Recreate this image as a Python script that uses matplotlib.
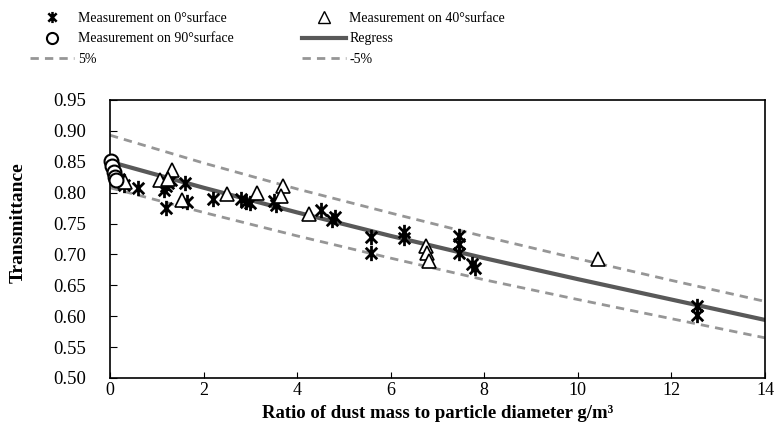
import matplotlib
matplotlib.use('Agg')
import matplotlib.pyplot as plt
from matplotlib.path import Path
from matplotlib.lines import Line2D

plt.rcParams['font.family'] = ['Liberation Serif', 'DejaVu Serif']

# measurement on 0 deg surface
x0 = [0.2, 0.3, 0.6, 1.2, 1.15, 1.2, 1.25, 1.3, 1.65, 1.6, 2.2, 2.8, 2.9, 3.0,
      3.5, 3.55, 4.5, 4.8, 4.75, 5.58, 5.58, 6.29, 6.29, 7.46, 7.46, 7.46,
      7.73, 7.8, 12.55, 12.55]
y0 = [0.822, 0.812, 0.808, 0.775, 0.805, 0.81, 0.815, 0.82, 0.785, 0.815, 0.79, 0.79,
      0.785, 0.783, 0.786, 0.78, 0.772, 0.76, 0.755, 0.728, 0.703, 0.736, 0.726, 0.73,
      0.717, 0.703, 0.684, 0.678, 0.617, 0.602]

# measurement on 40 deg surface
x40 = [0.32, 1.07, 1.32, 1.25, 1.53, 2.51, 3.15, 3.69, 3.65, 4.26, 6.75, 6.78, 6.82, 10.42]
y40 = [0.818, 0.82, 0.836, 0.822, 0.788, 0.798, 0.80, 0.81, 0.795, 0.766, 0.714, 0.702,
       0.689, 0.692]

# measurement on 90 deg surface
x90 = [0.02, 0.05, 0.08, 0.1, 0.12]
y90 = [0.851, 0.843, 0.834, 0.826, 0.821]

# regression curve and +/-5% band
xr = [0, 2, 4, 6, 8, 10, 12, 14]
yr = [0.850, 0.808, 0.768, 0.730, 0.694, 0.660, 0.627, 0.594]
yup = [0.893, 0.848, 0.806, 0.767, 0.729, 0.693, 0.658, 0.624]
ylo = [0.808, 0.768, 0.730, 0.694, 0.659, 0.627, 0.596, 0.565]

# asterisk: X plus vertical bar
star = Path([(0, -1), (0, 1), (-0.75, -0.75), (0.75, 0.75), (-0.75, 0.75), (0.75, -0.75)],
            [Path.MOVETO, Path.LINETO, Path.MOVETO, Path.LINETO, Path.MOVETO, Path.LINETO])

fig = plt.figure(figsize=(7.76, 4.43), dpi=100)
ax = fig.add_axes([110 / 776, 1 - 378 / 443, 655 / 776, 278 / 443])

ax.plot(xr, yup, '--', color='#969696', lw=2, dashes=(3, 2.2), zorder=1)
ax.plot(xr, ylo, '--', color='#969696', lw=2, dashes=(3, 2.2), zorder=1)
ax.plot(xr, yr, '-', color='#595959', lw=3, zorder=2)

ax.plot(x0, y0, ls='none', marker=star, ms=11, mew=2, mec='black', mfc='none', zorder=3)
ax.plot(x40, y40, ls='none', marker='^', ms=10, mew=1.2, mec='black', mfc='white', zorder=3)
ax.plot(x90, y90, ls='none', marker='o', ms=10, mew=1.5, mec='black', mfc='white',
        zorder=3, clip_on=False)

ax.set_xlim(0, 14)
ax.set_ylim(0.5, 0.95)
ax.set_xticks(range(0, 15, 2))
ax.set_yticks([0.50, 0.55, 0.60, 0.65, 0.70, 0.75, 0.80, 0.85, 0.90, 0.95])
ax.set_yticklabels(['%.2f' % v for v in ax.get_yticks()])
ax.tick_params(axis='y', direction='in', length=5, labelsize=13.5, pad=17)
ax.tick_params(axis='x', direction='in', length=4, labelsize=13, pad=3)
for s in ax.spines.values():
    s.set_linewidth(1.2)

ax.set_xlabel('Ratio of dust mass to particle diameter g/m³', fontsize=13.5,
              fontweight='bold')
ax.set_ylabel('Transmittance', fontsize=14, fontweight='bold')
ax.xaxis.set_label_coords(0.5, -35 / 278, transform=ax.transAxes)
ax.xaxis.label.set_va('center')
ax.yaxis.set_label_coords(-92 / 655, 0.56, transform=ax.transAxes)
ax.yaxis.label.set_va('center')

handles = [
    Line2D([], [], ls='none', marker=star, ms=8, mew=1.8, mec='black'),
    Line2D([], [], ls='none', marker='o', ms=8, mew=1.5, mec='black', mfc='white'),
    Line2D([], [], ls='--', color='#969696', lw=2, dashes=(3, 2.2)),
    Line2D([], [], ls='none', marker='^', ms=8, mew=1.0, mec='black', mfc='white'),
    Line2D([], [], ls='-', color='#595959', lw=3),
    Line2D([], [], ls='--', color='#969696', lw=2, dashes=(3, 2.2)),
]
labels = ['Measurement on 0°surface', 'Measurement on 90°surface', '5%',
          'Measurement on 40°surface', 'Regress', '-5%']
fig.legend(handles, labels, ncol=2, loc='upper left', bbox_to_anchor=(18 / 776, 1.0),
           frameon=False, fontsize=10, handlelength=3.2, handletextpad=0.25,
           columnspacing=4.9, labelspacing=0.55, borderaxespad=0.45)

fig.savefig('out.png', dpi=100)
